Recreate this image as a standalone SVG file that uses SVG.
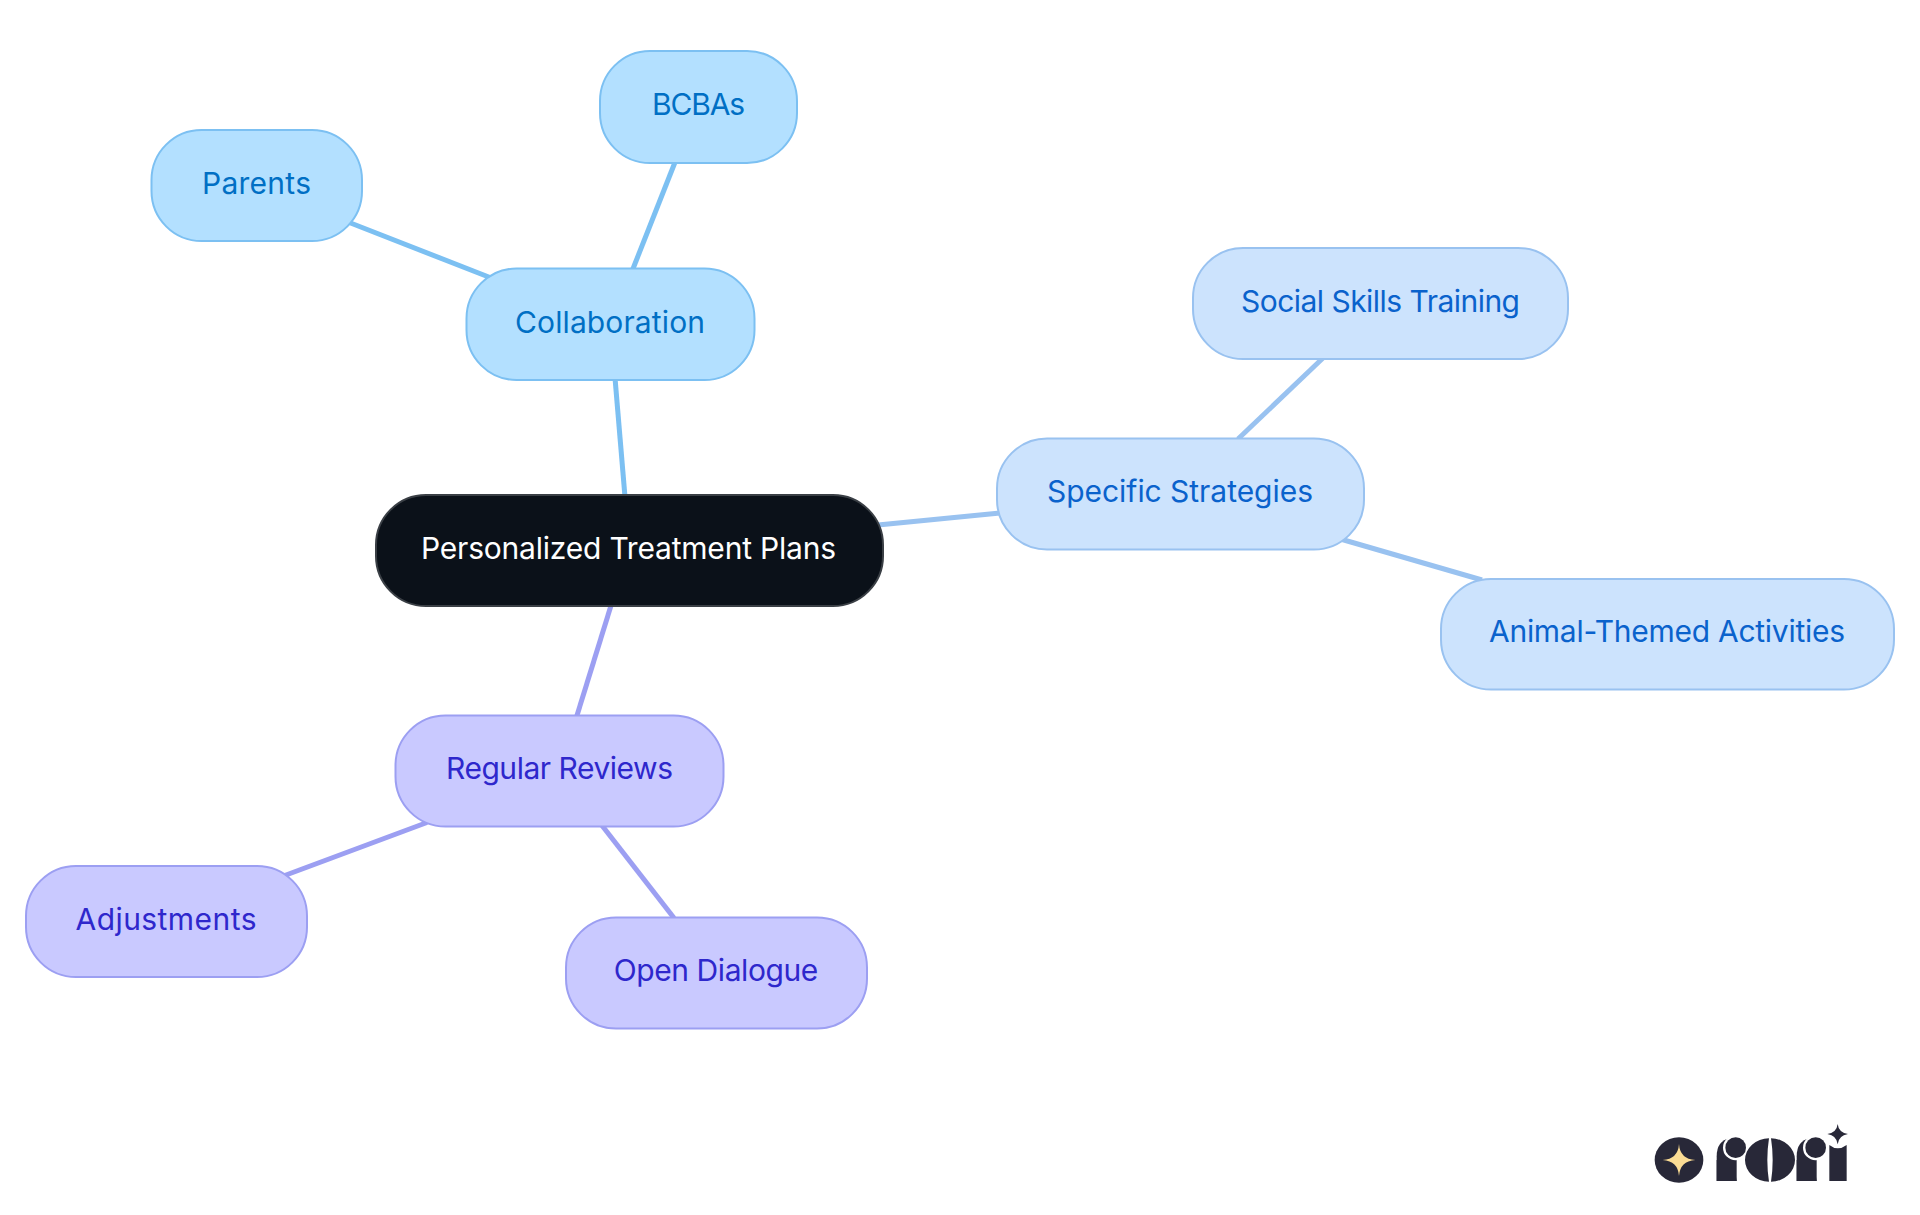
<svg xmlns="http://www.w3.org/2000/svg" width="1920" height="1215" viewBox="0 0 1920 1215">
<style>
text{font-family:"Inter","Noto Sans","Liberation Sans",sans-serif;font-size:30px;font-weight:370;text-anchor:middle}
rect{stroke-width:2}
line{stroke-width:5;fill:none}
.a rect{fill:#b3e0ff;stroke:#7cc0f2}.a text{fill:#006fc4}
.b rect{fill:#cce3fd;stroke:#99c2f0}.b text{fill:#0a62cc}
.c rect{fill:#c9c9ff;stroke:#9c9ff2}.c text{fill:#2e27cc}
.la{stroke:#7cc0f2}.lb{stroke:#99c2f0}.lc{stroke:#9c9ff2}
.k{fill:#282838}
</style>
<rect width="1920" height="1215" fill="#fff" style="stroke:none"/>
<g id="connectors">
<line class="la" x1="625" y1="497" x2="615" y2="378"/>
<line class="la" x1="632.500" y1="270" x2="675.500" y2="161"/>
<line class="la" x1="490" y1="277.500" x2="348" y2="222"/>
<line class="lb" x1="878" y1="525" x2="1000" y2="513"/>
<line class="lb" x1="1238" y1="439" x2="1323" y2="358"/>
<line class="lb" x1="1337" y1="538" x2="1482" y2="580"/>
<line class="lc" x1="611.500" y1="604" x2="576.500" y2="717"/>
<line class="lc" x1="427" y1="822.500" x2="282" y2="876.500"/>
<line class="lc" x1="602" y1="825.500" x2="674" y2="918"/>
</g>
<g id="root"><rect x="376" y="495" width="507" height="111" rx="50" fill="#0b1119" stroke="#3a3f45"/><text x="628.500" y="558.500" fill="#fff" textLength="415">Personalized Treatment Plans</text></g>
<g id="collaboration" class="a"><rect x="466.500" y="268.500" width="288" height="111.500" rx="50"/><text x="610" y="332.500" textLength="190">Collaboration</text></g>
<g id="bcbas" class="a"><rect x="600" y="51" width="197" height="112" rx="50"/><text x="698.500" y="115" textLength="93">BCBAs</text></g>
<g id="parents" class="a"><rect x="151.500" y="130" width="210.500" height="111" rx="50"/><text x="256.500" y="194" textLength="109">Parents</text></g>
<g id="specific" class="b"><rect x="997" y="438.500" width="367" height="111" rx="50"/><text x="1180" y="501.500" textLength="266">Specific Strategies</text></g>
<g id="social" class="b"><rect x="1193" y="248" width="375" height="111" rx="50"/><text x="1380.500" y="311.500" textLength="279">Social Skills Training</text></g>
<g id="animal" class="b"><rect x="1441" y="579" width="453" height="110.500" rx="50"/><text x="1667" y="642" textLength="356">Animal-Themed Activities</text></g>
<g id="regular" class="c"><rect x="395.500" y="715.500" width="328" height="111" rx="50"/><text x="559.500" y="779" textLength="227">Regular Reviews</text></g>
<g id="adjustments" class="c"><rect x="26" y="866" width="281" height="111" rx="50"/><text x="166" y="929.500" textLength="181">Adjustments</text></g>
<g id="open" class="c"><rect x="566" y="917.500" width="301" height="111" rx="50"/><text x="716" y="980.500" textLength="204.500">Open Dialogue</text></g>
<g id="logo" transform="translate(1620 1100) scale(.33333)">
<ellipse class="k" cx="177" cy="180" rx="73" ry="68"/>
<path d="M177 132Q180 177 226 180Q180 183 177 228Q174 183 128 180Q174 177 177 132Z" fill="#fbdc94"/>
<path class="k" d="M290 243V170Q290 122 330 115L350 243Z"/>
<rect x="290" y="180" width="60" height="63" class="k" style="stroke:none"/>
<circle cx="347" cy="143" r="38" fill="#fff"/><circle class="k" cx="347" cy="143" r="31"/>
<path class="k" d="M447 115A72 65 0 0 0 447 245Q437 180 447 115ZM453 115A72 65 0 0 1 453 245Q463 180 453 115Z"/>
<path class="k" d="M530 243V170Q530 122 570 115L590 243Z"/>
<rect x="530" y="180" width="60" height="63" class="k" style="stroke:none"/>
<circle cx="587" cy="143" r="38" fill="#fff"/><circle class="k" cx="587" cy="143" r="31"/>
<path class="k" d="M628 243V135Q653 155 680 135V243Z"/>
<path class="k" d="M653 72Q656 98 684 102Q656 106 653 133Q650 106 622 102Q650 98 653 72Z"/>
</g>
</svg>
